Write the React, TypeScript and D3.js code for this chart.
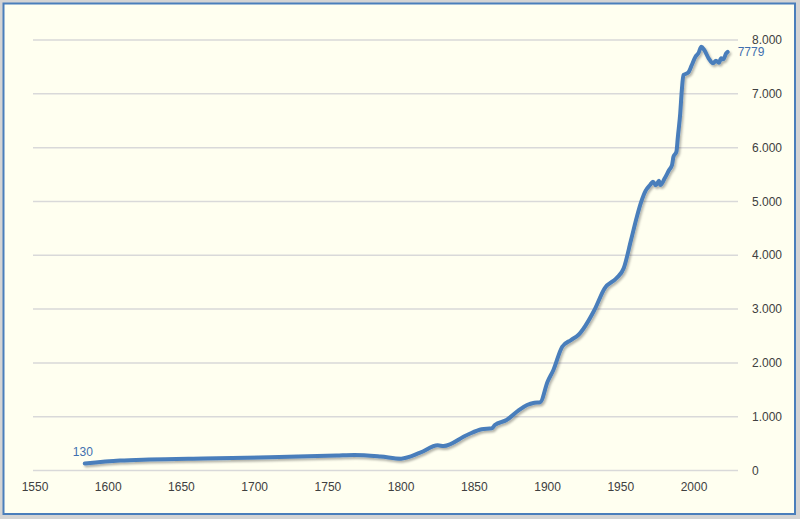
import React from "react";
import * as d3 from "d3";

const years = [1584, 1608, 1628, 1665, 1710, 1756, 1768, 1786, 1800, 1813, 1825, 1829, 1845, 1855, 1862, 1864, 1872, 1880, 1886, 1891, 1895, 1900, 1904, 1910, 1916, 1921, 1932, 1939, 1947, 1952, 1957, 1961, 1964, 1967, 1970, 1972, 1974, 1976, 1977, 1980, 1983, 1985, 1986, 1988, 1989, 1990.6, 1991.7, 1992.8, 1996, 1998.5, 2001, 2003, 2005, 2007, 2010, 2013, 2015, 2017, 2018.5, 2020, 2022, 2023];
const values = [130, 185, 205, 225, 245, 280, 290, 260, 220, 330, 468, 455, 660, 765, 784, 845, 938, 1111, 1217, 1260, 1270, 1650, 1868, 2300, 2425, 2518, 2983, 3386, 3572, 3757, 4283, 4716, 4995, 5200, 5305, 5367, 5300, 5385, 5305, 5430, 5584, 5677, 5832, 5925, 6203, 6638, 7071, 7350, 7393, 7536, 7690, 7753, 7876, 7815, 7660, 7567, 7616, 7578, 7660, 7641, 7753, 7779];
const yTicks = [0, 1000, 2000, 3000, 4000, 5000, 6000, 7000, 8000];
const xTicks = [1550, 1600, 1650, 1700, 1750, 1800, 1850, 1900, 1950, 2000];
const firstLabel = "130";
const lastLabel = "7779";

const W = 800;
const H = 519;
const lineColor = "#4a7ebb";

export default function App() {
  const x = d3.scaleLinear().domain([1550, 2000]).range([35, 694]);
  const y = d3.scaleLinear().domain([0, 8000]).range([470.5, 40]);
  const data = years.map((yr, i) => ({ yr, v: values[i] }));
  const line = d3
    .line<{ yr: number; v: number }>()
    .x((d) => x(d.yr))
    .y((d) => y(d.v))
    .curve(d3.curveMonotoneX);
  const gridX0 = 33;
  const gridX1 = 738;
  const font = "'Liberation Sans', Arial, sans-serif";
  const last = data[data.length - 1];
  const first = data[0];
  return (
    <div style={{ position: "fixed", left: 0, top: 0 }}>
      <svg width={W} height={H} style={{ display: "block" }}>
        <defs>
          <filter id="sh" x="-10%" y="-10%" width="120%" height="130%">
            <feDropShadow dx="1.5" dy="2" stdDeviation="1.2" floodColor="#000" floodOpacity="0.3" />
          </filter>
        </defs>
        <rect x={0} y={0} width={W} height={H} fill="#d4d4d4" />
        <rect x={3.5} y={3.5} width={791.5} height={510.5} fill="#fffff0" stroke="#4a7ebb" strokeWidth={2} />
        {yTicks.map((t) => (
          <g key={t}>
            <line x1={gridX0} x2={gridX1} y1={y(t)} y2={y(t)} stroke="#d9d9d9" strokeWidth={1.5} />
            <text x={752} y={y(t)} dy="0.35em" fontFamily={font} fontSize={12} fill="#404040">
              {d3.format(",")(t).replace(/,/g, ".")}
            </text>
          </g>
        ))}
        {xTicks.map((t) => (
          <text key={t} x={x(t)} y={491} textAnchor="middle" fontFamily={font} fontSize={12} fill="#404040">
            {t}
          </text>
        ))}
        <path d={line(data) || ""} fill="none" stroke={lineColor} strokeWidth={4} strokeLinejoin="round" strokeLinecap="round" filter="url(#sh)" />
        <text x={x(first.yr) - 12} y={y(first.v) - 8} fontFamily={font} fontSize={12} fill="#3f6faf">
          {firstLabel}
        </text>
        <text x={x(last.yr) + 10} y={y(last.v)} dy="0.35em" fontFamily={font} fontSize={12} fill="#3f6faf">
          {lastLabel}
        </text>
      </svg>
    </div>
  );
}
